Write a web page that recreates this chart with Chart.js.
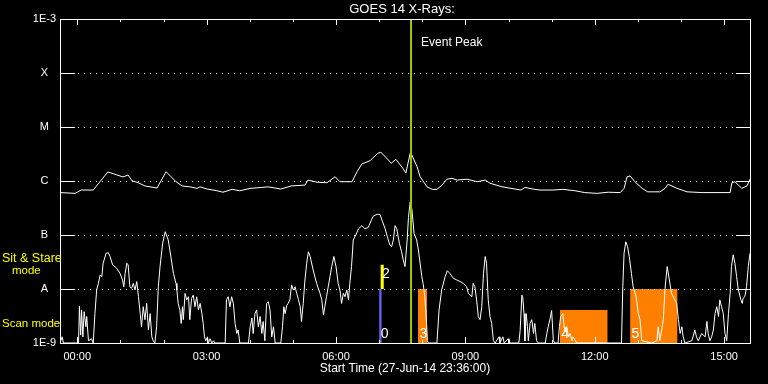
<!DOCTYPE html>
<html>
<head>
<meta charset="utf-8">
<script src="https://cdn.jsdelivr.net/npm/chart.js@4/dist/chart.umd.min.js"></script>
<style>
  html, body { margin: 0; padding: 0; background: #000; }
  canvas { display: block; }
</style>
</head>
<body>
<canvas id="goes" width="768" height="384"></canvas>
<script>
// hours since start (27-Jun-14 23:36:00)
const longTimes = [0, 0.35, 0.49, 0.77, 1.11, 1.46, 1.58, 1.67, 1.81, 1.97,
    2.25, 2.46, 2.69, 2.83, 3.01, 3.18, 3.25, 3.41, 3.64, 3.78,
    3.99, 4.17, 4.41, 4.68, 4.82, 5.12, 5.36, 5.68, 5.75, 5.96,
    6.19, 6.38, 6.49, 6.77, 6.89, 7.00, 7.19, 7.37, 7.44, 7.58,
    7.68, 7.79, 7.95, 8.02, 8.12, 8.16, 8.28, 8.35, 8.51, 8.63,
    8.74, 8.86, 8.97, 9.09, 9.21, 9.44, 9.67, 9.86, 9.97, 10.25,
    10.55, 10.69, 10.78, 11.01, 11.13, 11.43, 11.66, 11.94, 12.17, 12.45,
    12.71, 12.99, 13.08, 13.15, 13.22, 13.33, 13.50, 13.63, 13.91, 14.03,
    14.10, 14.31, 14.54, 14.89, 15.54, 15.58, 15.65, 15.81, 15.93, 16.0];
const longFlux = [6.1e-7, 5.9e-7, 6.8e-7, 6.8e-7, 1.47e-6, 1.19e-6, 1.29e-6, 1.01e-6, 9.3e-7, 8.1e-7,
    7.4e-7, 1.49e-6, 9.7e-7, 8.1e-7, 7.8e-7, 7.3e-7, 7.8e-7, 7.1e-7, 6.6e-7, 6.2e-7,
    7.0e-7, 6.6e-7, 7.3e-7, 7.6e-7, 7.8e-7, 7.1e-7, 8.1e-7, 8.4e-7, 1.04e-6, 9.5e-7,
    9.3e-7, 1.2e-6, 9.7e-7, 9.7e-7, 1.49e-6, 2.07e-6, 2.38e-6, 3.26e-6, 3.4e-6, 2.63e-6,
    2.13e-6, 2.52e-6, 1.72e-6, 1.41e-6, 3.26e-6, 3.03e-6, 1.84e-6, 1.2e-6, 7.8e-7, 7.0e-7,
    7.0e-7, 8.4e-7, 1.08e-6, 1.12e-6, 1.04e-6, 1.08e-6, 9.7e-7, 1.04e-6, 9.1e-7, 7.8e-7,
    7.1e-7, 6.8e-7, 7.6e-7, 7.0e-7, 6.8e-7, 6.8e-7, 7.0e-7, 6.6e-7, 6.1e-7, 5.9e-7,
    6.2e-7, 6.1e-7, 7.3e-7, 1.2e-6, 1.24e-6, 9.7e-7, 7.3e-7, 6.3e-7, 6.3e-7, 7.3e-7,
    8.7e-7, 7.3e-7, 6.3e-7, 6.1e-7, 6.1e-7, 9.3e-7, 9.7e-7, 7.3e-7, 8.1e-7, 1.08e-6];

const shortTimes = [0, 0.05, 0.08, 0.43, 0.45, 0.48, 0.50, 0.53, 0.56, 0.60,
    0.62, 0.66, 0.73, 0.77, 0.81, 0.85, 0.89, 0.93, 0.97, 1.00,
    1.07, 1.12, 1.16, 1.22, 1.31, 1.39, 1.45, 1.48, 1.51, 1.55,
    1.58, 1.62, 1.66, 1.70, 1.74, 1.78, 1.82, 1.86, 1.89, 1.93,
    1.97, 2.01, 2.05, 2.09, 2.13, 2.16, 2.20, 2.24, 2.28, 2.32,
    2.38, 2.44, 2.51, 2.57, 2.63, 2.69, 2.71, 2.74, 2.78, 2.81,
    2.84, 2.86, 2.90, 2.94, 2.98, 3.01, 3.05, 3.09, 3.13, 3.17,
    3.21, 3.25, 3.29, 3.32, 3.35, 3.38, 3.42, 3.44, 3.48, 3.52,
    3.56, 3.59, 3.83, 3.86, 3.90, 3.94, 3.98, 4.02, 4.06, 4.10,
    4.13, 4.17, 4.37, 4.41, 4.45, 4.48, 4.52, 4.56, 4.60, 4.64,
    4.68, 4.71, 4.75, 4.79, 4.83, 4.87, 4.91, 4.95, 4.99, 5.12,
    5.16, 5.19, 5.22, 5.26, 5.29, 5.33, 5.37, 5.41, 5.45, 5.49,
    5.53, 5.57, 5.60, 5.64, 5.68, 5.72, 5.76, 5.80, 5.87, 5.95,
    6.03, 6.07, 6.11, 6.14, 6.18, 6.22, 6.26, 6.30, 6.35, 6.40,
    6.45, 6.49, 6.53, 6.57, 6.61, 6.65, 6.69, 6.72, 6.76, 6.80,
    6.86, 6.92, 7.00, 7.07, 7.15, 7.23, 7.27, 7.36, 7.42, 7.48,
    7.54, 7.59, 7.65, 7.69, 7.73, 7.77, 7.81, 7.87, 7.92, 7.96,
    8.00, 8.05, 8.08, 8.12, 8.16, 8.21, 8.27, 8.31, 8.35, 8.39,
    8.42, 8.46, 8.50, 8.52, 8.54, 8.74, 8.79, 8.85, 8.93, 8.98,
    9.04, 9.12, 9.20, 9.28, 9.35, 9.43, 9.47, 9.55, 9.58, 9.62,
    9.66, 9.70, 9.74, 9.78, 9.82, 9.86, 9.89, 9.93, 9.97, 10.01,
    10.05, 10.09, 10.18, 10.20, 10.27, 10.30, 10.39, 10.41, 10.64, 10.67,
    10.71, 10.73, 10.76, 10.78, 10.81, 10.84, 10.86, 10.90, 10.94, 10.98,
    11.01, 11.05, 11.09, 11.25, 11.29, 11.32, 11.36, 11.40, 11.44, 11.48,
    11.55, 11.58, 11.61, 11.66, 11.69, 11.71, 11.75, 11.79, 11.83, 11.87,
    11.90, 11.98, 13.02, 13.05, 13.08, 13.12, 13.16, 13.20, 13.25, 13.29,
    13.36, 13.41, 13.45, 13.49, 13.72, 13.84, 13.87, 13.91, 13.99, 14.03,
    14.08, 14.13, 14.18, 14.24, 14.30, 14.34, 14.38, 14.42, 14.45, 14.49,
    14.65, 14.69, 14.72, 14.76, 14.80, 14.88, 14.96, 15.00, 15.03, 15.07,
    15.11, 15.15, 15.19, 15.23, 15.27, 15.30, 15.34, 15.38, 15.42, 15.46,
    15.50, 15.54, 15.57, 15.61, 15.65, 15.69, 15.73, 15.79, 15.82, 15.84,
    15.88, 15.92, 15.96, 16.00];
const shortFlux = [1e-9, 1.3e-9, 1e-9, 1e-9, 4.8e-9, 1.4e-9, 4.1e-9, 1.3e-9, 3.8e-9, 2.0e-9,
    3.1e-9, 1.1e-9, 1.2e-9, 1e-9, 3.5e-9, 9.6e-9, 1.27e-8, 1.81e-8, 1.69e-8, 3.0e-8,
    4.6e-8, 4.7e-8, 4.0e-8, 2.8e-8, 2.45e-8, 1.95e-8, 1.47e-8, 1.1e-8, 1.95e-8, 3.0e-8,
    2.8e-8, 1.1e-8, 1.03e-8, 1.27e-8, 9.6e-9, 1.37e-8, 7.2e-9, 3.5e-9, 2.0e-9, 4.7e-9,
    2.7e-9, 5.4e-9, 1.74e-9, 3.5e-9, 1.3e-9, 1.1e-9, 1e-9, 2.0e-9, 1.1e-8, 2.6e-8,
    7.0e-8, 1.15e-7, 8.1e-8, 4.0e-8, 1.95e-8, 1.27e-8, 9.6e-9, 5.4e-9, 4.1e-9, 2.3e-9,
    4.7e-9, 2.7e-9, 8.3e-9, 6.3e-9, 7.2e-9, 2.7e-9, 6.7e-9, 7.7e-9, 4.7e-9, 7.2e-9,
    4.1e-9, 5.4e-9, 3.5e-9, 2.3e-9, 1.3e-9, 1.1e-9, 1.3e-9, 1e-9, 1.2e-9, 1e-9,
    1.1e-9, 1e-9, 1e-9, 6.3e-9, 7.2e-9, 4.7e-9, 7.2e-9, 5.4e-9, 2.3e-9, 1.5e-9,
    1.74e-9, 1e-9, 1e-9, 2.0e-9, 2.9e-9, 1.5e-9, 3.5e-9, 4.1e-9, 2.0e-9, 3.1e-9,
    1.5e-9, 2.5e-9, 1.1e-9, 5.4e-9, 5.8e-9, 4.1e-9, 1.3e-9, 2.0e-9, 1e-9, 1e-9,
    2.0e-9, 4.7e-9, 3.5e-9, 5.0e-9, 5.4e-9, 6.3e-9, 1.19e-8, 9.6e-9, 1.1e-8, 8.3e-9,
    6.3e-9, 4.7e-9, 2.5e-9, 5.4e-9, 1.47e-8, 3.0e-8, 4.9e-8, 4.0e-8, 2.25e-8, 1.27e-8,
    8.3e-9, 6.3e-9, 3.3e-9, 4.7e-9, 7.2e-9, 1.1e-8, 1.69e-8, 2.6e-8, 4.0e-8, 2.6e-8,
    1.27e-8, 9.6e-9, 5.4e-9, 8.3e-9, 7.2e-9, 9.6e-9, 6.3e-9, 1.27e-8, 2.6e-8, 8.1e-8,
    1e-7, 1.3e-7, 1.49e-7, 1.3e-7, 1.39e-7, 1.97e-7, 2.26e-7, 2.42e-7, 2.4e-7, 1.76e-7,
    1.3e-7, 9.3e-8, 6.5e-8, 6.1e-8, 8.1e-8, 1.49e-7, 1.3e-7, 7.0e-8, 4.9e-8, 3.45e-8,
    2.6e-8, 8.1e-8, 2.1e-7, 4.1e-7, 3.0e-7, 1.07e-7, 8.1e-8, 5.3e-8, 3.0e-8, 1.69e-8,
    1.27e-8, 7.2e-9, 2.3e-9, 1.1e-9, 1e-9, 1e-9, 4.1e-9, 9.6e-9, 1.69e-8, 2.18e-8,
    1.95e-8, 1.58e-8, 1.47e-8, 1.37e-8, 1.27e-8, 1.1e-8, 8.3e-9, 7.2e-9, 1.27e-8, 1.1e-8,
    6.3e-9, 3.1e-9, 2.7e-9, 4.7e-9, 1.95e-8, 4.0e-8, 3.0e-8, 6.3e-9, 3.1e-9, 2.3e-9,
    1.1e-9, 1e-9, 1.3e-9, 1e-9, 1.3e-9, 1e-9, 1.2e-9, 1e-9, 1e-9, 1.7e-9,
    7.7e-9, 7.2e-9, 3.5e-9, 1.1e-9, 3.5e-9, 2.0e-9, 1.1e-9, 2.3e-9, 2.7e-9, 1.5e-9,
    2.3e-9, 1.1e-9, 1e-9, 1e-9, 1.5e-9, 2.0e-9, 2.7e-9, 4.0e-9, 1.1e-9, 1e-9,
    1e-9, 2.0e-9, 3.1e-9, 3.5e-9, 2.0e-9, 1.6e-9, 2.0e-9, 1.3e-9, 1.5e-9, 1.1e-9,
    1.3e-9, 1e-9, 1e-9, 1.1e-8, 4.6e-8, 7.5e-8, 6.1e-8, 4.0e-8, 1.95e-8, 1.1e-8,
    7.2e-9, 3.5e-9, 2.7e-9, 1.1e-9, 1e-9, 1.1e-9, 2.0e-9, 1.1e-9, 2.7e-9, 1.03e-8,
    2.6e-8, 1.47e-8, 8.3e-9, 6.7e-9, 5.4e-9, 2.7e-9, 1.5e-9, 2.0e-9, 1.3e-9, 1e-9,
    1.1e-9, 1.4e-9, 1.74e-9, 1.3e-9, 1.1e-9, 1.5e-9, 1.3e-9, 2.5e-9, 1.5e-9, 1.1e-9,
    1.3e-9, 1.74e-9, 3.5e-9, 4.7e-9, 3.1e-9, 6.3e-9, 4.7e-9, 3.5e-9, 1.5e-9, 1.1e-9,
    3.5e-9, 8.3e-9, 2.6e-8, 4.3e-8, 3.0e-8, 1.69e-8, 9.6e-9, 6.3e-9, 5.4e-9, 6.7e-9,
    7.2e-9, 1.1e-8, 2.6e-8, 4.6e-8];

// observing mode blocks: step times, top flux, base flux, label
const modeIds = ['0', '2', '3', '4', '5'];
const modeTimes = [[7.40, 7.46], [7.43, 7.47, 7.51], [8.30, 8.39, 8.51], [11.59, 12.70], [13.22, 14.32]];
const modeTop = [[1e-8, 1e-8], [1e-7, 2.8e-8, 2.8e-8], [4.1e-9, 1e-8, 1e-8], [4.1e-9, 4.1e-9], [1e-8, 1e-8]];
const modeBase = [1e-9, 1e-8, 1e-9, 1e-9, 1e-9];
const modeColors = ['#6464ff', '#ffff00', '#ff8000', '#ff8000', '#ff8000'];
const modeLabelFlux = [1.25e-9, 1.6e-8, 1.25e-9, 1.25e-9, 1.25e-9];

const eventPeak = [8.14];

const xTickValues = [0.4, 3.4, 6.4, 9.4, 12.4, 15.4];
const xTickLabels = ['00:00', '03:00', '06:00', '09:00', '12:00', '15:00'];
const yTickValues = [1e-9, 1e-8, 1e-7, 1e-6, 1e-5, 1e-4, 1e-3];
const yTickLabels = ['1E-9', 'A', 'B', 'C', 'M', 'X', '1E-3'];

const FONT = "'Liberation Sans', Arial, sans-serif";

function toPoints(xs, ys) {
    const n = Math.min(xs.length, ys.length);
    const out = [];
    for (let i = 0; i < n; i++) out.push({ x: xs[i], y: ys[i] });
    return out;
}

const datasets = [];

datasets.push({
    label: 'Event Peak',
    data: [{ x: eventPeak[0], y: yTickValues[0] }, { x: eventPeak[0], y: yTickValues[yTickValues.length - 1] }],
    borderColor: '#99cc00',
    borderWidth: 2,
    order: 0
});
datasets.push({ label: '1-8 A', data: toPoints(longTimes, longFlux), borderColor: '#ffffff', borderWidth: 1, order: 1 });
datasets.push({ label: '0.5-4 A', data: toPoints(shortTimes, shortFlux), borderColor: '#ffffff', borderWidth: 1, order: 1 });

modeIds.forEach((id, i) => {
    datasets.push({
        label: 'mode ' + id,
        data: toPoints(modeTimes[i], modeTop[i]),
        stepped: 'after',
        borderWidth: 0,
        borderColor: modeColors[i],
        backgroundColor: modeColors[i],
        fill: modeBase[i] === yTickValues[0] ? 'start' : { value: modeBase[i] },
        order: 5
    });
});

const decorations = {
    id: 'decorations',
    afterDatasetsDraw(chart) {
        const { ctx, chartArea: a, scales: { x, y } } = chart;
        ctx.save();

        // mode numbers
        ctx.fillStyle = '#ffffff';
        ctx.font = '14px ' + FONT;
        ctx.textAlign = 'left';
        ctx.textBaseline = 'alphabetic';
        modeIds.forEach((id, i) => {
            ctx.fillText(id, x.getPixelForValue(modeTimes[i][0]) + 1.5, y.getPixelForValue(modeLabelFlux[i]));
        });

        // frame
        ctx.strokeStyle = '#ffffff';
        ctx.lineWidth = 1;
        ctx.strokeRect(a.left + 0.5, a.top + 0.5, a.right - a.left, a.bottom - a.top);

        // hourly ticks, top and bottom
        ctx.beginPath();
        for (let h = 0; h < 16; h++) {
            const t = xTickValues[0] + h;
            const px = Math.round(x.getPixelForValue(t)) + 0.5;
            const len = h % 3 === 0 ? 6 : 3;
            ctx.moveTo(px, a.top);
            ctx.lineTo(px, a.top + len);
            ctx.moveTo(px, a.bottom);
            ctx.lineTo(px, a.bottom - len);
        }
        ctx.stroke();

        // decade ticks and dotted grid
        yTickValues.slice(1, -1).forEach(v => {
            const py = Math.round(y.getPixelForValue(v)) + 0.5;
            ctx.setLineDash([]);
            ctx.beginPath();
            ctx.moveTo(a.left, py); ctx.lineTo(a.left + 15, py);
            ctx.moveTo(a.right - 14, py); ctx.lineTo(a.right, py);
            ctx.stroke();
            ctx.setLineDash([1, 5]);
            ctx.lineDashOffset = -3;
            ctx.beginPath();
            ctx.moveTo(a.left + 15, py); ctx.lineTo(a.right - 14, py);
            ctx.stroke();
        });
        ctx.setLineDash([]);

        // texts
        ctx.fillStyle = '#ffffff';
        ctx.textBaseline = 'middle';
        ctx.font = '13px ' + FONT;
        ctx.textAlign = 'center';
        ctx.fillText('GOES 14 X-Rays:', (a.left + a.right) / 2 - 3, 9);
        ctx.font = '12px ' + FONT;
        ctx.textAlign = 'left';
        ctx.fillText('Event Peak', x.getPixelForValue(eventPeak[0]) + 10, 43);
        ctx.textAlign = 'center';
        ctx.fillText('Start Time (27-Jun-14 23:36:00)', (a.left + a.right) / 2, 369);

        ctx.fillStyle = '#ffff00';
        ctx.textAlign = 'left';
        ctx.font = '12.5px ' + FONT;
        ctx.fillText('Sit & Stare', 2, 259);
        ctx.font = '11.5px ' + FONT;
        ctx.fillText('mode', 12, 271);
        ctx.fillText('Scan mode', 2, 324);
        ctx.restore();
    }
};

new Chart(document.getElementById('goes').getContext('2d'), {
    type: 'line',
    data: { datasets: datasets },
    options: {
        responsive: false,
        animation: false,
        events: [],
        layout: { padding: { top: 19, right: 18, left: 0, bottom: 0 } },
        elements: {
            point: { radius: 0 },
            line: { tension: 0 }
        },
        plugins: {
            legend: { display: false },
            tooltip: { enabled: false },
            title: { display: false }
        },
        scales: {
            x: {
                type: 'linear',
                min: 0,
                max: 16,
                grid: { display: false, drawTicks: false },
                border: { display: false },
                afterBuildTicks: s => { s.ticks = xTickValues.map(v => ({ value: v })); },
                afterFit: s => { s.height = 41; },
                ticks: {
                    color: '#ffffff',
                    font: { family: FONT, size: 11 },
                    padding: 7,
                    maxRotation: 0,
                    autoSkip: false,
                    callback: (v, i) => xTickLabels[i]
                }
            },
            y: {
                type: 'logarithmic',
                min: yTickValues[0],
                max: yTickValues[yTickValues.length - 1],
                grid: { display: false, drawTicks: false },
                border: { display: false },
                afterBuildTicks: s => { s.ticks = yTickValues.map(v => ({ value: v })); },
                afterFit: s => { s.width = 60; },
                ticks: {
                    color: '#ffffff',
                    font: { family: FONT, size: 11 },
                    padding: 4,
                    crossAlign: 'center',
                    autoSkip: false,
                    callback: (v, i) => yTickLabels[i]
                }
            }
        }
    },
    plugins: [decorations]
});
</script>
</body>
</html>
